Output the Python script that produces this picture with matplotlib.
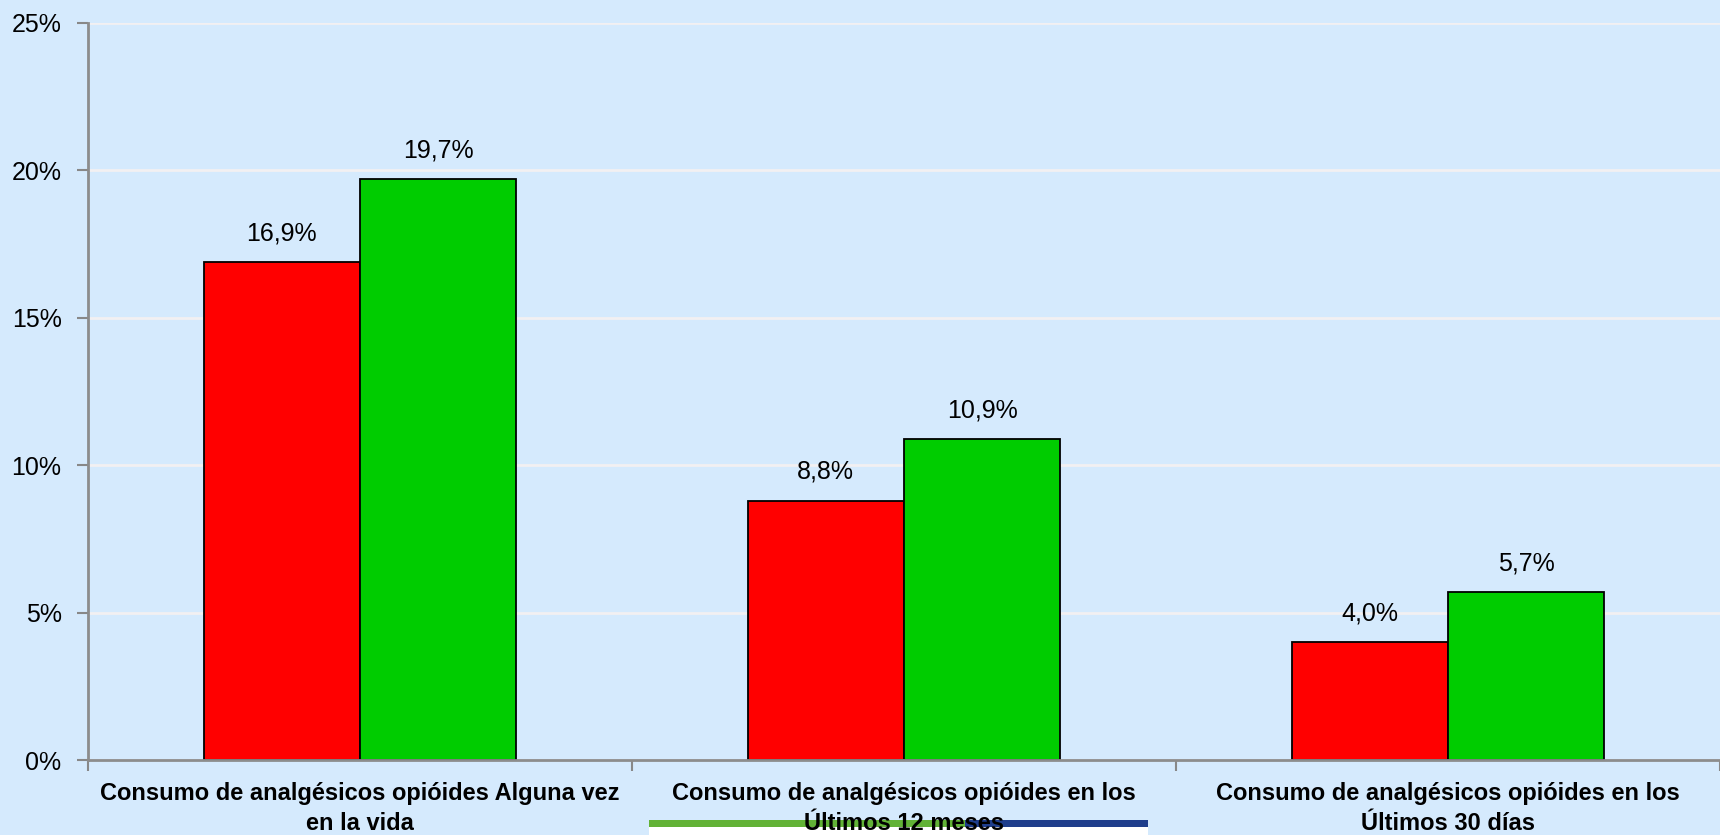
import matplotlib
matplotlib.use("Agg")
import matplotlib.pyplot as plt
from matplotlib.patches import Rectangle
import numpy as np

# data
categories = [
    "Consumo de analgésicos opióides Alguna vez\nen la vida",
    "Consumo de analgésicos opióides en los\nÚltimos 12 meses",
    "Consumo de analgésicos opióides en los\nÚltimos 30 días",
]
serie_roja = [16.9, 8.8, 4.0]
serie_verde = [19.7, 10.9, 5.7]
yticks = [0, 5, 10, 15, 20, 25]
ytick_labels = ["0%", "5%", "10%", "15%", "20%", "25%"]

bg = "#D5EAFD"
fnt = ["Liberation Sans", "DejaVu Sans"]
fig = plt.figure(figsize=(17.2, 8.35), dpi=100, facecolor=bg)
ax = fig.add_axes([88 / 1720, 75 / 835, 1 - 88 / 1720, (760 - 23) / 835])
ax.set_facecolor(bg)

x = np.arange(len(categories))
w = 0.2875
b1 = ax.bar(x - w / 2, serie_roja, w, color="#FF0000", edgecolor="black", linewidth=1.3, zorder=2)
b2 = ax.bar(x + w / 2, serie_verde, w, color="#00CC00", edgecolor="black", linewidth=1.3, zorder=2)

for bars, vals in [(b1, serie_roja), (b2, serie_verde)]:
    for r, v in zip(bars, vals):
        ax.annotate(f"{v:.1f}%".replace(".", ","),
                    (r.get_x() + r.get_width() / 2, v),
                    xytext=(0, 12), textcoords="offset points",
                    ha="center", va="bottom", fontsize=18, family=fnt)

ax.set_xlim(-0.5, len(categories) - 0.5)
ax.set_ylim(0, 25)
ax.set_yticks(yticks)
ax.set_yticklabels(ytick_labels, fontsize=18, family=fnt)
ax.yaxis.grid(True, color="#F2F0F2", linewidth=2, zorder=0)
ax.set_axisbelow(True)

# category labels centred, ticks between categories
ax.set_xticks(x)
ax.set_xticklabels(categories, fontsize=17, fontweight="bold",
                   family=fnt, linespacing=1.4)
ax.tick_params(axis="x", which="major", length=0, pad=16)
ax.set_xticks(np.arange(len(categories) + 1) - 0.5, minor=True)
ax.tick_params(axis="x", which="minor", length=8, width=1.5, color="#888888")
ax.tick_params(axis="y", length=8, width=1.5, color="#888888", pad=11)

for s in ["top", "right"]:
    ax.spines[s].set_visible(False)
for s in ["left", "bottom"]:
    ax.spines[s].set_color("#8C8C8C")
    ax.spines[s].set_linewidth(2)
    ax.spines[s].set_zorder(3)

# decorative band under the middle label
x0, x1, xm = 649 / 1720, 1148 / 1720, 965 / 1720
fig.patches.append(Rectangle((x0, 0), x1 - x0, 8 / 835, transform=fig.transFigure,
                             facecolor="white", edgecolor="none", zorder=-1))
fig.patches.append(Rectangle((x0, 8 / 835), xm - x0, 7 / 835, transform=fig.transFigure,
                             facecolor="#62B236", edgecolor="none", zorder=-1))
fig.patches.append(Rectangle((xm, 8 / 835), x1 - xm, 7 / 835, transform=fig.transFigure,
                             facecolor="#1F3E8C", edgecolor="none", zorder=-1))

fig.savefig("out.png", dpi=100, facecolor=bg)
